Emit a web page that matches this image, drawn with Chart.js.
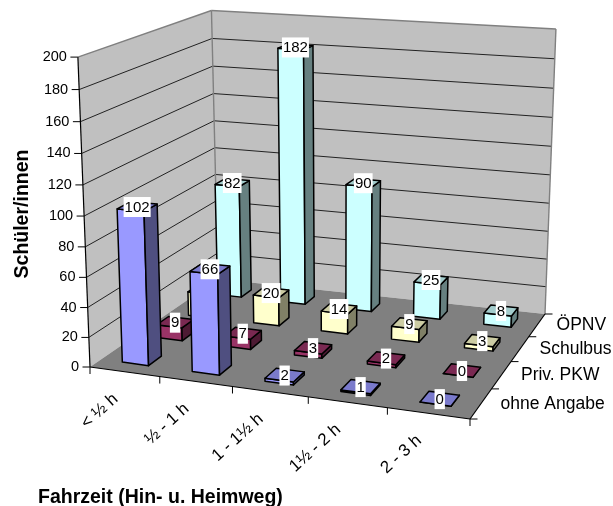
<!DOCTYPE html>
<html><head><meta charset="utf-8">
<style>html,body{margin:0;padding:0;background:#fff}canvas{display:block}</style>
<script src="https://cdn.jsdelivr.net/npm/chart.js@4"></script>
</head><body><canvas id="c" width="613" height="506"></canvas>
<script>
const categories = ['< ½ h', '½ - 1 h', '1 - 1½ h', '1½ - 2 h', '2 - 3 h'];
const seriesNames = ['ohne Angabe', 'Priv. PKW', 'Schulbus', 'ÖPNV'];
const ohneAngabe = [102, 66, 2, 1, 0];
const privPkw = [9, 7, 3, 2, 0];
const schulbus = [17, 20, 14, 9, 3];
const oepnv = [82, 182, 90, 25, 8];
const valueMax = 200, valueStep = 20;
const faceColors = {
  'ohne Angabe': ['#9999FF', '#4F4F80', '#7A7ACC'],
  'Priv. PKW': ['#993366', '#4D1A33', '#7A2952'],
  'Schulbus': ['#FFFFCC', '#808066', '#CCCCA3'],
  'ÖPNV': ['#CCFFFF', '#668080', '#A3CCCC']
};
// projection frame: four floor corners plus the vertical vanishing point
const A = [90, 367], B = [470, 419], C = [545, 314], D = [218, 279];
const VP = [318.6, 6218], K = -0.0503;
const dx1=B[0]-C[0], dx2=D[0]-C[0], sx=A[0]-B[0]+C[0]-D[0];
const dy1=B[1]-C[1], dy2=D[1]-C[1], sy=A[1]-B[1]+C[1]-D[1];
const dd=dx1*dy2-dx2*dy1;
const g=(sx*dy2-sy*dx2)/dd, h=(dx1*sy-dy1*sx)/dd;
const ha=B[0]-A[0]+g*B[0], hb=D[0]-A[0]+h*D[0], hd=B[1]-A[1]+g*B[1], he=D[1]-A[1]+h*D[1];
function P(u,v,w0){
  const w=w0*(1+0.019*v-0.026*u*v);
  const X=ha*u+hb*v+A[0]+w*K*VP[0], Y=hd*u+he*v+A[1]+w*K*VP[1], Z=g*u+h*v+1+w*K;
  return [X/Z-2*w0*v*(1-u),Y/Z];
}
function poly(ctx,pts,fill,stroke,lw){
  ctx.beginPath();pts.forEach((p,i)=>i?ctx.lineTo(p[0],p[1]):ctx.moveTo(p[0],p[1]));ctx.closePath();
  if(fill){ctx.fillStyle=fill;ctx.fill();}
  if(stroke){ctx.strokeStyle=stroke;ctx.lineWidth=lw||1;ctx.lineJoin='round';ctx.stroke();}
}
function line(ctx,a,b,col,lw){ctx.beginPath();ctx.moveTo(a[0],a[1]);ctx.lineTo(b[0],b[1]);ctx.strokeStyle=col;ctx.lineWidth=lw;ctx.stroke();}
const ROW_FRONT=0.30, ROW_BACK=0.67;
const FONT='"Liberation Sans", Arial, sans-serif';

function wOf(chart,px){const y=chart.scales.y;return (y.bottom-px)/(y.bottom-y.top);}
function drawBar(chart,di,i,el,ctx){
  const xs=chart.scales.x, ds=chart.scales.depth;
  const name=chart.data.datasets[di].label;
  const row=seriesNames.indexOf(name);
  const cols=faceColors[name];
  const u0=(el.x-el.width/2-xs.left)/xs.width, u1=(el.x+el.width/2-xs.left)/xs.width;
  const rowW=ds.width/seriesNames.length;
  const vs=(ds.getPixelForValue(row)-rowW/2-ds.left)/ds.width;
  const v0=vs+ROW_FRONT*0.25, v1=vs+ROW_BACK*0.25;
  const w=wOf(chart,el.y);
  const a=P(u0,v0,0),b=P(u1,v0,0),c=P(u1,v1,0);
  const a2=P(u0,v0,w),b2=P(u1,v0,w),c2=P(u1,v1,w),d2=P(u0,v1,w);
  poly(ctx,[a,b,b2,a2],cols[0],'#000',1.5);
  poly(ctx,[b,c,c2,b2],cols[1],'#000',1.5);
  poly(ctx,[a2,b2,c2,d2],cols[2],'#000',1.5);
  // value label
  const val=chart.data.datasets[di].data[i];
  const cx=(a2[0]+c2[0])/2, cy=(a2[1]+c2[1])/2+0.5;
  ctx.font='15px '+FONT;
  const tw=ctx.measureText(String(val)).width;
  ctx.fillStyle='#fff';
  ctx.fillRect(cx-tw/2-1,cy-10,tw+2,20);
  ctx.fillStyle='#000';ctx.textAlign='center';ctx.textBaseline='middle';
  ctx.fillText(String(val),cx,cy+0.5);
}
const bars3d={
  id:'bars3d',
  afterDatasetsUpdate(chart){
    chart.data.datasets.forEach((d,di)=>{
      chart.getDatasetMeta(di).data.forEach((el,i)=>{
        el.draw=function(ctx){drawBar(chart,di,i,el,ctx);};
      });
    });
  },
  beforeDatasetsDraw(chart){
    const ctx=chart.ctx, ys=chart.scales.y, xs=chart.scales.x, ds=chart.scales.depth;
    ctx.save();
    poly(ctx,[P(0,0,0),P(0,1,0),P(0,1,1),P(0,0,1)],'#C0C0C0');
    poly(ctx,[P(0,1,0),P(1,1,0),P(1,1,1),P(0,1,1)],'#C0C0C0');
    poly(ctx,[P(0,0,0),P(1,0,0),P(1,1,0),P(0,1,0)],'#808080');
    // gridlines on the walls
    ys.ticks.forEach(t=>{
      const w=wOf(chart,ys.getPixelForValue(t.value));
      if(w>0&&w<1){
        line(ctx,P(0,0,w),P(0,1,w),'#222',1);
        line(ctx,P(0,1,w),P(1,1,w),'#222',1);
      }
    });
    // wall edges
    line(ctx,P(0,0,1),P(0,1,1),'#808080',1.4);
    line(ctx,P(0,1,1),P(1,1,1),'#808080',1.4);
    line(ctx,P(0,1,0),P(0,1,1),'#808080',1.4);
    line(ctx,P(1,1,0),P(1,1,1),'#808080',1.4);
    // axes
    line(ctx,P(0,0,0),P(0,0,1),'#000',1.2);
    line(ctx,P(0,0,0),P(1,0,0),'#000',1.2);
    line(ctx,P(1,0,0),P(1,1,0),'#000',1.2);
    // value ticks
    ctx.font='14.5px '+FONT;ctx.fillStyle='#000';ctx.textAlign='right';ctx.textBaseline='middle';
    ys.ticks.forEach(t=>{
      const w=wOf(chart,ys.getPixelForValue(t.value));
      const p=P(0,0,w);
      line(ctx,p,[p[0]-7.5,p[1]],'#000',1);
      ctx.fillStyle='#000';
      ctx.fillText(String(t.value),p[0]-11,p[1]);
    });
    // category ticks and labels
    const cn=categories.length;
    for(let i=0;i<=cn;i++){
      const p=P(i/cn,0,0);
      line(ctx,p,[p[0],p[1]+7],'#000',1);
    }
    categories.forEach((c,i)=>{
      const u=(xs.getPixelForValue(i)-xs.left)/xs.width;
      const p=P(u,0,0);
      ctx.save();
      ctx.translate(p[0]-9,p[1]+25);
      ctx.rotate(-42*Math.PI/180);
      ctx.font='17px '+FONT;ctx.textAlign='right';ctx.textBaseline='middle';ctx.fillStyle='#000';
      ctx.fillText(c,0,0);
      ctx.restore();
    });
    // series ticks and labels
    const sn=seriesNames.length;
    for(let i=0;i<=sn;i++){
      const p=P(1,i/sn,0);
      line(ctx,p,[p[0]+7.5,p[1]],'#000',1);
    }
    seriesNames.forEach((s,i)=>{
      const v=(ds.getPixelForValue(i)-ds.left)/ds.width;
      const p=P(1,v,0);
      ctx.font='17.5px '+FONT;ctx.textAlign='left';ctx.textBaseline='middle';ctx.fillStyle='#000';
      ctx.fillText(s,p[0]+19.5,p[1]+0.5);
    });
    ctx.restore();
  }
};
new Chart(document.getElementById('c'),{
  type:'bar',
  data:{labels:categories,datasets:[
    {label:seriesNames[0],data:ohneAngabe,backgroundColor:faceColors[seriesNames[0]][0],clip:false},
    {label:seriesNames[1],data:privPkw,backgroundColor:faceColors[seriesNames[1]][0],clip:false},
    {label:seriesNames[2],data:schulbus,backgroundColor:faceColors[seriesNames[2]][0],clip:false},
    {label:seriesNames[3],data:oepnv,backgroundColor:faceColors[seriesNames[3]][0],clip:false}
  ]},
  plugins:[bars3d],
  options:{
    responsive:false,animation:false,
    devicePixelRatio:1,
    layout:{padding:{left:11,top:10,right:13,bottom:0}},
    plugins:{legend:{display:false},tooltip:{enabled:false}},
    datasets:{bar:{grouped:false,categoryPercentage:1,barPercentage:0.38}},
    scales:{
      x:{type:'category',offset:true,grid:{display:false,drawTicks:false},border:{display:false},ticks:{display:false},
         title:{display:true,text:'Fahrzeit (Hin- u. Heimweg)',align:'start',color:'#000',
                font:{family:'"Liberation Sans"',size:19.5,weight:'bold'},padding:{top:67.6,bottom:-3}}},
      depth:{type:'category',labels:seriesNames,offset:true,axis:'x',display:false},
      y:{min:0,max:valueMax,grid:{display:false,drawTicks:false},border:{display:false},
         ticks:{display:false,stepSize:valueStep},
         title:{display:true,text:'Schüler/innen',color:'#000',
                font:{family:'"Liberation Sans"',size:19.5,weight:'bold'},padding:{top:0,bottom:3.6}}}
    }
  }
});
</script></body></html>
